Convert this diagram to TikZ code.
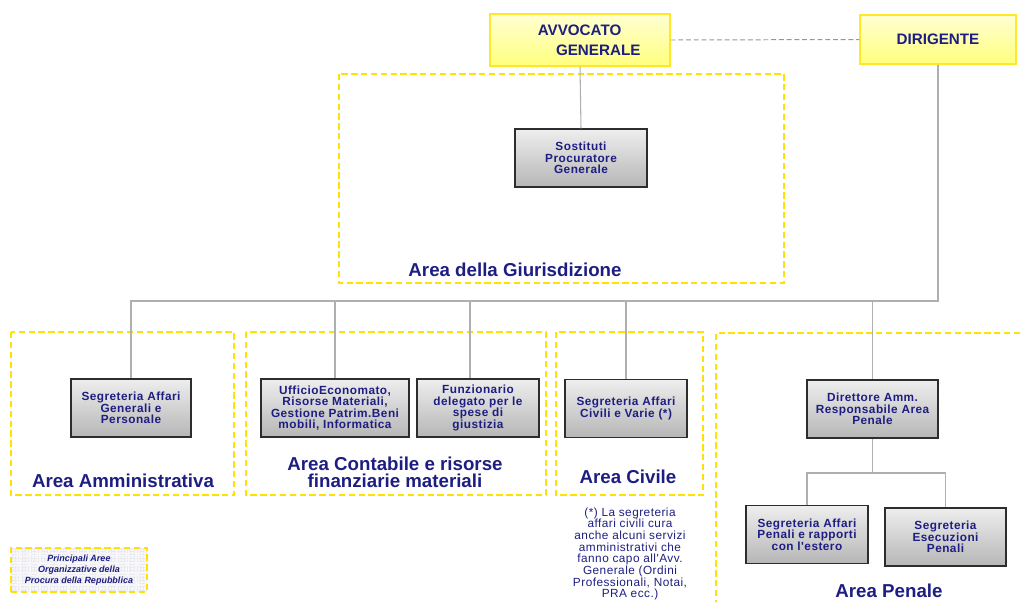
\documentclass[tikz,border=0pt]{standalone}
\usepackage{fontspec}
\setmainfont{Liberation Sans}
\newfontfamily\largo[LetterSpace=4]{Liberation Sans}
\usetikzlibrary{positioning}

\definecolor{blutesto}{RGB}{30,30,130}
\definecolor{giallochiaro}{RGB}{255,255,210}
\definecolor{giallo}{RGB}{255,255,125}
\definecolor{giallobordo}{RGB}{255,232,40}
\definecolor{gialloarea}{RGB}{255,226,0}
\definecolor{grigiochiaro}{RGB}{238,238,238}
\definecolor{grigio}{RGB}{182,182,182}
\definecolor{grigioscuro}{RGB}{45,45,45}
\definecolor{grigiofilo}{RGB}{175,175,175}
\definecolor{grigiotratto}{RGB}{150,150,150}
\definecolor{fondoleg}{RGB}{247,247,250}
\definecolor{grigliafine}{RGB}{234,234,238}

\begin{document}
\begin{tikzpicture}[x=0.025cm, y=-0.025cm,
    capo/.style={draw=giallobordo, line width=0.8pt, top color=giallochiaro, bottom color=giallo,
        text=blutesto, font=\fontsize{10.8}{14}\selectfont\bfseries, align=left},
    ufficio/.style={draw=grigioscuro, line width=0.9pt, top color=grigiochiaro, bottom color=grigio,
        text=blutesto, font=\largo\bfseries\fontsize{8.4}{8.1}\selectfont, align=center,
        inner sep=1pt, minimum height=1.45cm},
    filo/.style={draw=grigiofilo, line width=0.75pt},
    tratto/.style={draw=grigiotratto, line width=0.7pt, dash pattern=on 3.5pt off 2pt},
    area/.style={draw=gialloarea, line width=0.9pt, dash pattern=on 4.5pt off 2.5pt},
    titolo/.style={text=blutesto, font=\fontsize{13.3}{12}\selectfont\bfseries, align=center},
    nota/.style={text=blutesto, font=\largo\fontsize{8.4}{8.3}\selectfont, align=center}]

    \useasboundingbox (0,0) rectangle (1021,601);

    \draw[area] (339,74) rectangle (784,283);
    \draw[area] (11,332) rectangle (234,495);
    \draw[area] (246,332) rectangle (546,495);
    \draw[area] (556,332) rectangle (703,495);
    \draw[area] (1030,333) -| (716,610);

    \node[capo, minimum width=4.5cm, minimum height=1.3cm] (avv) at (580,40) {\hspace*{1.2em}AVVOCATO\\\hspace*{2.4em}GENERALE};
    \node[capo, minimum width=3.9cm, minimum height=1.225cm] (dir) at (938,39.5) {DIRIGENTE};

    \foreach \nome/\cx/\cy/\lw/\testo in {
        sost/581/158/3.3/{Sostituti\\Procuratore\\Generale},
        sag/131/408/3.0/{Segreteria Affari\\Generali e\\Personale},
        uff/335/408/3.7/{UfficioEconomato,\\Risorse Materiali,\\Gestione Patrim.Beni\\mobili, Informatica},
        fun/478/408/3.05/{Funzionario\\delegato per le\\spese di\\giustizia},
        civ/626/408.5/3.05/{Segreteria Affari\\Civili e Varie (*)},
        dam/872.5/409/3.275/{Direttore Amm.\\Responsabile Area\\Penale},
        pen/807/534.5/3.05/{Segreteria Affari\\Penali e rapporti\\con l'estero},
        ese/945.5/537/3.025/{Segreteria\\Esecuzioni\\Penali}} {
        \node[ufficio, minimum width=\lw cm] (\nome) at (\cx,\cy) {\testo};
    }

    \node[titolo] (tgiu) at (515,270) {Area della Giurisdizione};
    \node[titolo] (tamm) at (123,481) {Area Amministrativa};
    \node[titolo] (tcon) at (395,472) {Area Contabile e risorse\\finanziarie materiali};
    \node[titolo] (tciv) at (628,477) {Area Civile};
    \node[titolo] (tpen) at (889,591) {Area Penale};

    \node[nota] (nciv) at (630,554) {(*) La segreteria\\affari civili cura\\anche alcuni servizi\\amministrativi che\\fanno capo all'Avv.\\Generale (Ordini\\Professionali, Notai,\\PRA ecc.)};

    \node[area, fill=fondoleg, minimum width=3.4cm, minimum height=1.1cm, inner sep=0pt,
        text=blutesto, font=\fontsize{6.4}{7.8}\selectfont\bfseries\itshape, align=center,
        path picture={\draw[grigliafine, line width=0.25pt, step=0.08cm]
            (path picture bounding box.south west) grid (path picture bounding box.north east);}]
        (leg) at (79,570) {Principali Aree\\Organizzative della\\Procura della Repubblica};

    \coordinate (bus) at (0,301);
    \coordinate (snodo) at (0,473);

    \draw[tratto] (avv.east) -- (dir.west);
    \draw[filo] (avv.south) -- (sost.north);
    \draw[filo] (dir.south) |- (sag.north |- bus) -- (sag.north);
    \foreach \nome in {uff, civ, dam}
        \draw[filo] (\nome.north |- bus) -- (\nome.north);
    \draw[filo] ([xshift=-0.2cm]fun.north |- bus) -- ([xshift=-0.2cm]fun.north);
    \draw[filo] (dam.south) -- (dam.south |- snodo) -| (pen.north);
    \draw[filo] (dam.south |- snodo) -| (ese.north);
\end{tikzpicture}
\end{document}
